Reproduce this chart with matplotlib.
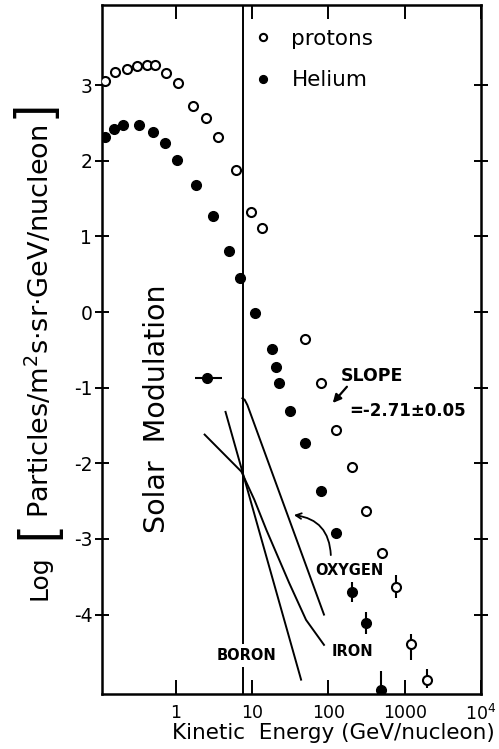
import numpy as np
import matplotlib
matplotlib.use("Agg")
import matplotlib.pyplot as plt

plt.rcParams['font.family'] = 'DejaVu Sans'
plt.rcParams['mathtext.fontset'] = 'dejavusans'
plt.rcParams['axes.unicode_minus'] = False

# proton spectrum (open circles)
p_E = [0.119, 0.160, 0.230, 0.31, 0.42, 0.53, 0.74, 1.06, 1.67, 2.46, 3.53,
       6.24, 9.8, 13.6, 49.5, 80, 126, 203, 310, 500]
p_flux = [3.06, 3.17, 3.21, 3.25, 3.26, 3.26, 3.16, 3.03, 2.73, 2.56, 2.32,
          1.88, 1.32, 1.11, -0.36, -0.94, -1.56, -2.05, -2.63, -3.18]
# high energy protons with error bars
p_err_E = [760, 1200, 1940]
p_err_flux = [-3.63, -4.39, -4.87]
p_err_lo = [0.15, 0.21, 0.10]
p_err_hi = [0.15, 0.13, 0.15]

# helium spectrum (filled circles)
h_E = [0.119, 0.155, 0.204, 0.33, 0.50, 0.72, 1.03, 1.82, 3.04, 5.06, 7.0,
       11.0, 18.4, 20.7, 22.7, 31.6, 49.5, 80, 126]
h_flux = [2.32, 2.42, 2.47, 2.47, 2.38, 2.23, 2.01, 1.68, 1.27, 0.81, 0.45,
          -0.01, -0.49, -0.73, -0.94, -1.31, -1.73, -2.36, -2.92]
h_err_E = [203, 310, 485]
h_err_flux = [-3.70, -4.11, -5.0]
h_err_lo = [0.13, 0.15, 0.0]
h_err_hi = [0.13, 0.15, 0.26]
# single helium point with energy spread
h_mod_E = 2.54
h_mod_flux = -0.87
h_mod_xerr = [[0.77], [1.44]]

E_cut = 7.5

# fitted spectra of heavier nuclei
boron_E = [4.49, 43.9]
boron_flux = [-1.32, -4.86]
oxygen_E = [7.47, 8.0, 8.69, 87.6]
oxygen_flux = [-1.14, -1.16, -1.23, -4.0]
iron_E = [2.39, 7.25, 10.7, 15.4, 30.6, 51.0, 87.6]
iron_flux = [-1.62, -2.11, -2.48, -2.88, -3.58, -4.07, -4.40]

x_ticks = [1, 10, 100, 1000, 10000]
x_ticklabels = ['1', '10', '100', '1000', r'10$^4$']
y_ticks = [-4, -3, -2, -1, 0, 1, 2, 3]

W, H = 499, 749
fig = plt.figure(figsize=(W / 100, H / 100), dpi=100)
ax = fig.add_axes([0.2044, 0.0734, 0.7595, 0.92])

ax.set_xscale('log')
ax.set_xlim(0.108, 10000)
ax.set_ylim(-5.05, 4.06)

lw = 1.4
ax.plot(p_E, p_flux, 'o', ms=6.5, mfc='white', mec='black', mew=1.5,
        label='protons', zorder=3)
ax.plot(h_E, h_flux, 'o', ms=7, color='black', label='Helium', zorder=3)

ax.errorbar(p_err_E, p_err_flux, yerr=[p_err_lo, p_err_hi], fmt='o', ms=6.5,
            mfc='white', mec='black', mew=1.5, ecolor='black', elinewidth=1.5,
            capsize=0, zorder=3)
ax.errorbar(h_err_E, h_err_flux, yerr=[h_err_lo, h_err_hi], fmt='o', ms=7,
            color='black', elinewidth=1.5, capsize=0, zorder=3)
ax.errorbar([h_mod_E], [h_mod_flux], xerr=h_mod_xerr, fmt='o', ms=7,
            color='black', elinewidth=1.5, capsize=0, zorder=3)

ax.axvline(E_cut, color='black', lw=lw, zorder=1)

ax.plot(boron_E, boron_flux, color='black', lw=lw)
ax.plot(oxygen_E, oxygen_flux, color='black', lw=lw)
ax.plot(iron_E, iron_flux, color='black', lw=lw)

# labels for the heavy nuclei
ax.text(8.43, -4.54, 'BORON', fontsize=10.5, fontweight='bold', ha='center',
        va='center', bbox=dict(fc='white', ec='none', pad=3), zorder=4)
ax.text(209, -4.49, 'IRON', fontsize=10.5, fontweight='bold', ha='center',
        va='center', zorder=4)
ax.text(191, -3.42, 'OXYGEN', fontsize=10.5, fontweight='bold', ha='center',
        va='center', zorder=4)
ax.annotate('', xy=(32.5, -2.68), xytext=(108, -3.25),
            arrowprops=dict(arrowstyle='->', color='black', lw=1.3,
                            connectionstyle='arc3,rad=0.45'))

ax.text(370, -0.845, 'SLOPE', fontsize=12.5, fontweight='bold', ha='center',
        va='center')
ax.text(1090, -1.31, '=-2.71±0.05', fontsize=12, fontweight='bold',
        ha='center', va='center')
ax.annotate('', xy=(108, -1.23), xytext=(185, -0.96),
            arrowprops=dict(arrowstyle='-|>', color='black', lw=1.6,
                            mutation_scale=12))

ax.text(0.56, -1.28, 'Solar  Modulation', fontsize=20.5, rotation=90,
        ha='center', va='center')

ax.legend(loc='upper left', bbox_to_anchor=(0.375, 0.978), frameon=False,
          fontsize=15.5, handlelength=1.0, handletextpad=0.8, labelspacing=1.0,
          markerscale=0.8, borderaxespad=0)

ax.set_xticks(x_ticks)
ax.set_xticklabels(x_ticklabels)
ax.minorticks_off()
ax.set_yticks(y_ticks)
ax.tick_params(axis='x', which='both', direction='in', length=10, width=1.4,
               top=True, labelsize=12.5, pad=7)
ax.tick_params(axis='y', which='both', direction='inout', length=10,
               width=1.4, right=True, labelsize=13.5, pad=2)

for s in ax.spines.values():
    s.set_linewidth(1.8)

ax.set_xlabel('Kinetic  Energy (GeV/nucleon)', fontsize=15.5, va='center')
ax.xaxis.set_label_coords(0.61, -0.057)

# y axis title, with tall thin brackets around the units
def ylab(px, py, s, size, family='DejaVu Sans'):
    fig.text(px / W, 1 - py / H, s, fontsize=size, rotation=90,
             ha='center', va='center', family=family)

ylab(40, 578, 'Log', 18)
ylab(37, 532, '[', 36, 'Liberation Sans')
ylab(40, 321, r'Particles/m$^2$s·sr·GeV/nucleon', 19.5)
ylab(37, 111, ']', 36, 'Liberation Sans')

fig.savefig('out.png', dpi=100)
